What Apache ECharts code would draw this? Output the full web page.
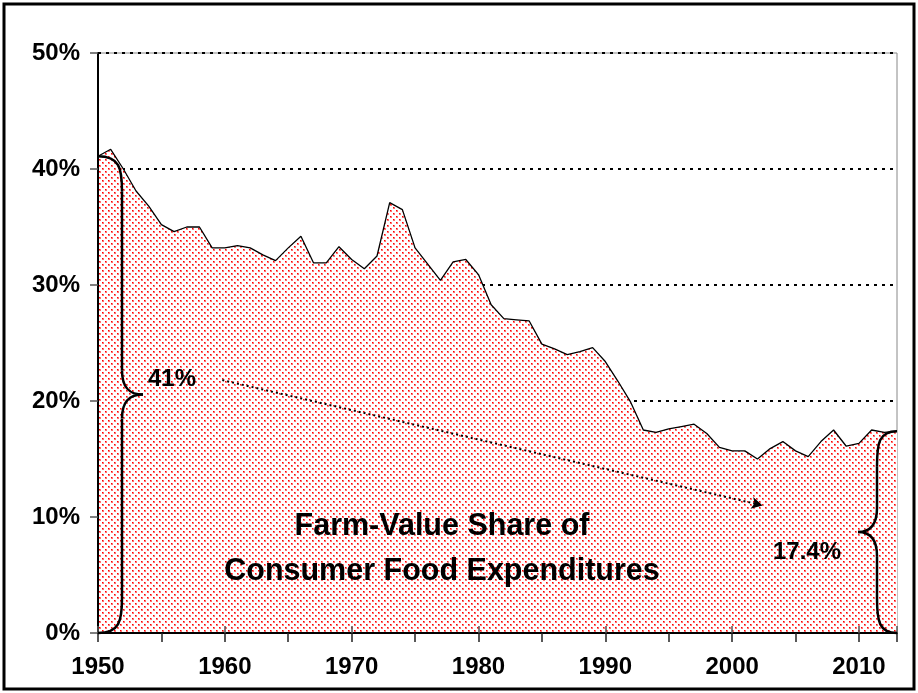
<!DOCTYPE html>
<html>
<head>
    <meta charset="utf-8">
    <title>Farm-Value Share</title>
    <script src="https://cdn.jsdelivr.net/npm/echarts@6/dist/echarts.min.js"></script>
    <style>
        body { margin: 0; background: #fff; }
        #chart { width: 918px; height: 693px; }
    </style>
</head>
<body>
    <div id="chart"></div>
    <script type="text/javascript">

        // years on the x axis
        var years = [1950, 1951, 1952, 1953, 1954, 1955, 1956, 1957, 1958, 1959,
                     1960, 1961, 1962, 1963, 1964, 1965, 1966, 1967, 1968, 1969,
                     1970, 1971, 1972, 1973, 1974, 1975, 1976, 1977, 1978, 1979,
                     1980, 1981, 1982, 1983, 1984, 1985, 1986, 1987, 1988, 1989,
                     1990, 1991, 1992, 1993, 1994, 1995, 1996, 1997, 1998, 1999,
                     2000, 2001, 2002, 2003, 2004, 2005, 2006, 2007, 2008, 2009,
                     2010, 2011, 2012, 2013];
        // farm-value share, percent
        var shares = [41.1, 41.7, 40.0, 38.1, 36.8, 35.2, 34.6, 35.0, 35.0, 33.2,
                      33.2, 33.4, 33.2, 32.6, 32.1, 33.2, 34.2, 31.9, 31.9, 33.3,
                      32.2, 31.4, 32.5, 37.1, 36.5, 33.2, 31.8, 30.4, 32.0, 32.2,
                      30.9, 28.3, 27.1, 27.0, 26.9, 24.9, 24.5, 24.0, 24.25, 24.6,
                      23.4, 21.7, 19.9, 17.5, 17.3, 17.6, 17.8, 18.0, 17.2, 16.0,
                      15.7, 15.7, 15.0, 15.9, 16.5, 15.7, 15.2, 16.5, 17.5, 16.1,
                      16.35, 17.5, 17.3, 17.4];
        var yTicks = [0, 10, 20, 30, 40, 50];
        var startLabel = '41%';
        var endLabel = '17.4%';
        var trendStart = [1959.8, 21.8];
        var trendEnd = [2002.4, 11.0];

        var seriesData = years.map(function (y, i) { return [y, shares[i]]; });

        // red dot fill like the excel pattern
        var tile = document.createElement('canvas');
        tile.width = 6; tile.height = 6;
        var tctx = tile.getContext('2d');
        tctx.fillStyle = '#fff';
        tctx.fillRect(0, 0, 6, 6);
        tctx.fillStyle = '#ff7070';
        tctx.fillRect(0, 0, 2, 2);
        tctx.fillRect(3, 3, 2, 2);
        tctx.fillStyle = '#ff0000';
        tctx.fillRect(0, 0, 1, 1);
        tctx.fillRect(3, 3, 1, 1);

        var font = 'Liberation Sans, Arial, sans-serif';
        var chart = echarts.init(document.getElementById('chart'));

        var labelStyle = {
            margin: 18,
            color: '#000', fontFamily: font, fontWeight: 'bold', fontSize: 24
        };

        var option = {
            animation: false,
            backgroundColor: '#fff',
            grid: {
                left: 98, right: 21, top: 53, bottom: 60,
                outerBoundsMode: 'none',
                show: true, borderColor: '#888', borderWidth: 1
            },
            xAxis: [{
                type: 'value',
                min: 1950, max: 2013, interval: 5,
                z: 10,
                axisLine: { lineStyle: { color: '#000', width: 2 } },
                axisTick: { length: 9, lineStyle: { color: '#222', width: 1.5 } },
                splitLine: { show: false },
                axisLabel: Object.assign({}, labelStyle, {
                    margin: 22,
                    formatter: function (v) { return v % 10 === 0 ? String(v) : ''; }
                })
            }, {
                type: 'value',
                position: 'bottom',
                min: 1950, max: 2013, interval: 10,
                z: 10,
                axisLine: { show: false },
                axisTick: { inside: true, length: 7, lineStyle: { color: '#555', width: 1.5 } },
                axisLabel: { show: false },
                splitLine: { show: false }
            }],
            yAxis: [{
                // grid lines only, kept under the area
                type: 'value',
                position: 'left',
                min: 0, max: 50, interval: 10,
                axisLine: { show: false },
                axisTick: { show: false },
                axisLabel: { show: false },
                splitLine: { lineStyle: { color: '#000', type: [3, 5], width: 2 } }
            }, {
                type: 'value',
                position: 'left',
                min: 0, max: 50, interval: 10,
                z: 10,
                axisLine: { show: true, onZero: false, lineStyle: { color: '#000', width: 2 } },
                axisTick: { show: true, length: 8, lineStyle: { color: '#555', width: 1.5 } },
                splitLine: { show: false },
                axisLabel: Object.assign({}, labelStyle, {
                    formatter: function (v) { return yTicks.indexOf(v) >= 0 ? v + '%' : ''; }
                })
            }],
            series: [{
                type: 'line',
                data: seriesData,
                yAxisIndex: 0,
                symbol: 'none',
                z: 2,
                lineStyle: { color: '#000', width: 1.3 },
                areaStyle: { color: { image: tile, repeat: 'repeat' }, opacity: 1 },
                markLine: {
                    silent: true,
                    symbol: ['none', 'arrow'],
                    symbolSize: [9, 11],
                    label: { show: false },
                    lineStyle: { color: '#000', type: [2, 3], width: 2 },
                    data: [[{ coord: trendStart }, { coord: trendEnd }]]
                }
            }]
        };
        chart.setOption(option);

        // braces built from the axis positions
        var braceStyle = { fill: null, stroke: '#000', lineWidth: 2.5 };
        function brace(xData, vTop, vBot, dir, reach, bulge) {
            var top = chart.convertToPixel({ gridIndex: 0 }, [xData, vTop]);
            var bot = chart.convertToPixel({ gridIndex: 0 }, [xData, vBot]);
            var x0 = top[0], y0 = top[1], y1 = bot[1];
            var xb = x0 + dir * bulge, xt = x0 + dir * reach;
            var ym = (y0 + y1) / 2;
            var c = x0 + dir * bulge * 0.9;
            var bz = function (a, b, p1, p2) {
                return { type: 'bezierCurve', z: 20, style: braceStyle,
                    shape: { x1: a[0], y1: a[1], x2: b[0], y2: b[1],
                             cpx1: p1[0], cpy1: p1[1], cpx2: p2[0], cpy2: p2[1] } };
            };
            var ln = function (a, b) {
                return { type: 'line', z: 20, style: braceStyle,
                    shape: { x1: a[0], y1: a[1], x2: b[0], y2: b[1] } };
            };
            return [
                bz([x0, y0], [xb, y0 + 35], [c, y0], [xb, y0 + 12]),
                ln([xb, y0 + 35], [xb, ym - 24]),
                bz([xb, ym - 24], [xt, ym], [xb, ym - 6], [xb + dir * 8, ym]),
                bz([xt, ym], [xb, ym + 24], [xb + dir * 8, ym], [xb, ym + 6]),
                ln([xb, ym + 24], [xb, y1 - 35]),
                bz([xb, y1 - 35], [x0, y1], [xb, y1 - 12], [c, y1])
            ];
        }

        var txt = function (x, y, s, size, align) {
            return {
                type: 'text', x: x, y: y, z: 20,
                style: {
                    text: s, fill: '#000', font: 'bold ' + size + 'px ' + font,
                    textAlign: align || 'left', textVerticalAlign: 'middle'
                }
            };
        };

        var elements = [
            { type: 'rect', z: 30, shape: { x: 4, y: 4, width: 910, height: 685 },
              style: { fill: null, stroke: '#000', lineWidth: 3 } },
            txt(148, 379, startLabel, 24),
            txt(773, 552, endLabel, 24),
            txt(442, 527, 'Farm-Value Share of', 30.5, 'center'),
            txt(442, 572, 'Consumer Food Expenditures', 30.5, 'center')
        ];
        elements = elements
            .concat(brace(1950, shares[0], 0, 1, 45, 24))
            .concat(brace(2013, shares[shares.length - 1], 0, -1, 39, 20));

        chart.setOption({ graphic: elements });
    </script>
</body>
</html>
